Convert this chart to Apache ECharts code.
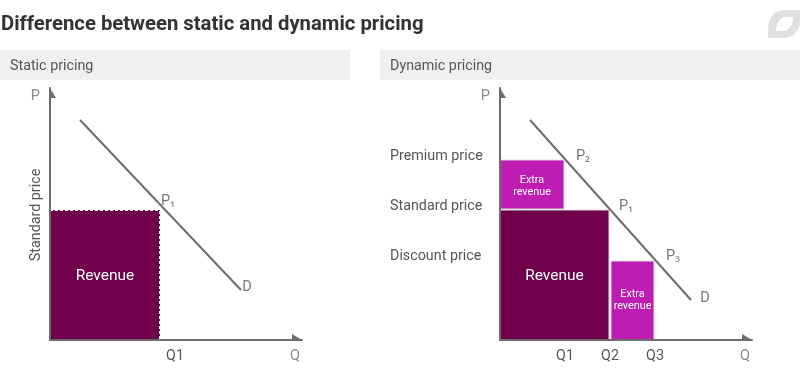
<!DOCTYPE html>
<html><head><meta charset="utf-8">
<style>html,body{margin:0;padding:0;background:#fff}#c{width:800px;height:370px}</style>
<script src="https://cdn.jsdelivr.net/npm/echarts@6/dist/echarts.min.js"></script>
</head><body><div id="c"></div>
<script>
const chartTitle = 'Difference between static and dynamic pricing';
const panelTitles = ['Static pricing', 'Dynamic pricing'];
// Q and P in axis units, [Qstart, Qend, Pbottom, Ptop]
const staticRects = [[0, 110, 0, 130]];
const staticRectLabels = ['Revenue'];
const dynamicRects = [[0, 64, 131, 180], [0, 109, 0, 130], [111, 154, 0, 79]];
const dynamicRectLabels = ['Extra\nrevenue', 'Revenue', 'Extra\nrevenue'];
const staticDemand = [[30, 220], [191, 50]];
const dynamicDemand = [[30, 220], [191, 40]];
const staticNotes = [['P', '\u2081', 118, 139], ['D', '', 197, 53]];
const dynamicNotes = [['P', '\u2082', 83, 184], ['P', '\u2081', 126, 134], ['P', '\u2083', 173, 84], ['D', '', 205, 42]];
const staticQTicks = [[125, 'Q1']];
const dynamicQTicks = [[65, 'Q1'], [110, 'Q2'], [155, 'Q3']];
const dynamicPTicks = [[184, 'Premium price'], [134, 'Standard price'], [84, 'Discount price']];
const staticPTicks = [[125, 'Standard price']];

const FONT = 'Roboto';
const LINE = '#6d6d71', TXT = '#555', SOFT = '#8a8a8a';
const REV = '#70004b', EXTRA = '#bd1db2';
const xArrow = 'path://M6 0L6 10L0 10ZM12 0L12 0';
const yArrow = 'path://M6 0L6 10L12 10ZM0 0L0 0';
const logoPath = 'M32 0H17C7 0 2 6 0.5 14L0 28H15C25 28 32 20 32 12ZM8 21C8 14 12 7 18 7H25C25 15 21 21 14 21Z';

function rectSeries(idx, rows, labels, dashed) {
  return {
    type: 'custom', xAxisIndex: idx, yAxisIndex: idx, z: 2, data: rows, silent: true,
    encode: { x: [0, 1], y: [2, 3] },
    renderItem(params, api) {
      const a = api.coord([api.value(0), api.value(3)]);
      const b = api.coord([api.value(1), api.value(2)]);
      const label = labels[params.dataIndex];
      const big = label === 'Revenue';
      const fill = big ? REV : EXTRA;
      const raised = api.value(2) > 0;
      const children = [{
        type: 'rect',
        shape: { x: a[0], y: a[1], width: b[0] - a[0], height: b[1] - a[1] },
        style: { fill, stroke: dashed ? null : '#dcdcdc', lineWidth: dashed ? 0 : 1 }
      }];
      if (dashed) children.push({
        type: 'polyline',
        shape: { points: [[a[0], a[1] + 0.5], [b[0] - 0.5, a[1] + 0.5], [b[0] - 0.5, b[1]]] },
        style: { fill: null, stroke: '#fff', lineWidth: 1, lineDash: [3, 2] }
      });
      children.push({
        type: 'text', z2: 10,
        style: {
          text: label, x: (a[0] + b[0]) / 2, y: (a[1] + b[1]) / 2 + (big ? 1 : raised ? 2 : 0),
          align: 'center', verticalAlign: 'middle', fill: '#fff',
          font: (big ? '15.5px ' : '10.8px ') + FONT, lineHeight: 12
        }
      });
      return { type: 'group', children };
    }
  };
}
function lineSeries(idx, pts) {
  return { type: 'line', xAxisIndex: idx, yAxisIndex: idx, data: pts, symbol: 'none', silent: true,
    lineStyle: { color: LINE, width: 2 }, z: 3 };
}
function noteSeries(idx, notes) {
  return {
    type: 'scatter', xAxisIndex: idx, yAxisIndex: idx, symbolSize: 1, silent: true,
    itemStyle: { color: 'transparent' }, z: 4,
    data: notes.map(n => ({ name: n[0], sub: n[1], value: [n[2], n[3]] })),
    label: { show: true, position: 'inside',
      formatter: p => p.data.sub ? p.name + '{s|' + p.data.sub + '}' : p.name,
      color: TXT, fontFamily: FONT, fontSize: 14.5,
      rich: { s: { fontFamily: 'Noto Sans', fontSize: 14, color: TXT } } }
  };
}
function xAxis(idx, ticks) {
  return {
    type: 'value', gridIndex: idx, min: 0, max: 252, z: 6,
    splitLine: { show: false }, axisTick: { show: false },
    axisLine: { show: true, onZero: false, lineStyle: { color: LINE, width: 2 },
      symbol: ['none', xArrow], symbolSize: [12, 10], symbolOffset: [0, -5] },
    axisLabel: { show: true, customValues: ticks.map(t => t[0]),
      formatter: v => (ticks.find(t => t[0] === v) || [])[1] || '',
      color: TXT, fontFamily: FONT, fontSize: 14.3, margin: 9 },
    name: 'Q', nameLocation: 'end', nameGap: 0,
    nameTextStyle: { color: SOFT, fontFamily: FONT, fontSize: 14.5, align: 'right', verticalAlign: 'top', padding: [9, 2, 0, 0] }
  };
}
function yAxis(idx, ticks, label) {
  return {
    type: 'value', gridIndex: idx, min: 0, max: 252, z: 6,
    splitLine: { show: false }, axisTick: { show: false },
    axisLine: { show: true, onZero: false, lineStyle: { color: LINE, width: 2 },
      symbol: ['none', yArrow], symbolSize: [12, 10], symbolOffset: [0, -5] },
    axisLabel: Object.assign({ show: true, customValues: ticks.map(t => t[0]),
      formatter: v => (ticks.find(t => t[0] === v) || [])[1] || '',
      color: TXT, fontFamily: FONT, fontSize: 14.3 }, label),
    name: 'P', nameLocation: 'end', nameGap: 0,
    nameTextStyle: { color: SOFT, fontFamily: FONT, fontSize: 14.5, align: 'right', verticalAlign: 'top', padding: [1, 10, 0, 0] }
  };
}

const chart = echarts.init(document.getElementById('c'), null, { renderer: 'canvas' });
chart.setOption({
  animation: false,
  backgroundColor: '#fff',
  title: [
    { text: chartTitle, left: 1, top: 15, padding: 0, textStyle: { color: '#333', fontFamily: FONT, fontWeight: 'bold', fontSize: 20.3 } },
    { text: panelTitles[0], left: 10, top: 59, padding: 0, textStyle: { color: TXT, fontFamily: FONT, fontWeight: 'normal', fontSize: 14.3 } },
    { text: panelTitles[1], left: 390, top: 59, padding: 0, textStyle: { color: TXT, fontFamily: FONT, fontWeight: 'normal', fontSize: 14.3 } }
  ],
  graphic: [
    { type: 'rect', z: -1, shape: { x: 0, y: 50, width: 350, height: 30 }, style: { fill: '#f0f0f0' } },
    { type: 'rect', z: -1, shape: { x: 380, y: 50, width: 420, height: 30 }, style: { fill: '#f0f0f0' } }
  ],
  grid: [
    { left: 50, top: 88, width: 252, height: 252, containLabel: false },
    { left: 500, top: 88, width: 252, height: 252, containLabel: false }
  ],
  xAxis: [xAxis(0, staticQTicks), xAxis(1, dynamicQTicks)],
  yAxis: [
    yAxis(0, staticPTicks, { rotate: 90, margin: 7 }),
    yAxis(1, dynamicPTicks, { align: 'left', margin: 110 })
  ],
  series: [
    rectSeries(0, staticRects, staticRectLabels, true),
    rectSeries(1, dynamicRects, dynamicRectLabels, false),
    lineSeries(0, staticDemand), lineSeries(1, dynamicDemand),
    noteSeries(0, staticNotes), noteSeries(1, dynamicNotes),
    { type: 'custom', coordinateSystem: 'none', data: [0], silent: true,
      renderItem() {
        return { type: 'path', shape: { pathData: logoPath, layout: 'cover', x: 768, y: 10, width: 32, height: 28 },
          style: { fill: '#e0e0e0' } };
      } }
  ]
});
</script></body></html>
